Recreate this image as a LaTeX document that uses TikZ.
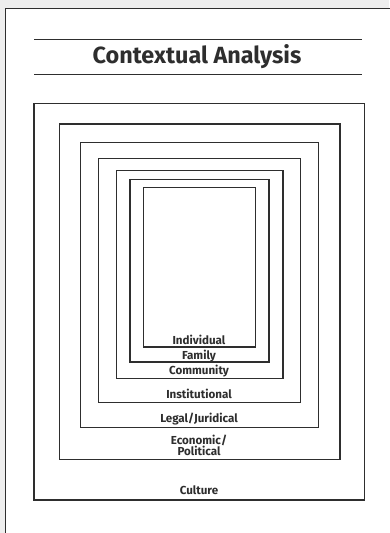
\documentclass[tikz,border=0pt]{standalone}
\usepackage{fontspec}
\setmainfont{Fira Sans}
\definecolor{pagebg}{HTML}{EEEEEE}
\definecolor{ink}{HTML}{2E2E2E}
\begin{document}
\begin{tikzpicture}[x=1pt,y=-1pt,
  box/.style={draw=ink,line width=#1},
  box/.default=1.1pt,
  lbl/.style={font=\bfseries\fontsize{11.6}{10.6}\selectfont,text=ink,inner sep=0pt,align=center},
  rulel/.style={draw=ink,line width=0.9pt}]
\useasboundingbox (0,0) rectangle (389,533);
\fill[pagebg] (0,0) rectangle (389,533);
\fill[white] (5,8) rectangle (395,540);
\draw[ink,line width=1pt] (5,540) -- (5,8) -- (395,8);
% title
\coordinate (t1a) at (34,39.5); \coordinate (t1b) at (362,39.5);
\coordinate (t2a) at (34,74); \coordinate (t2b) at (362,74);
\draw[rulel] (t1a) -- (t1b);
\draw[rulel] (t2a) -- (t2b);
\node[font=\bfseries\fontsize{23.4}{26}\selectfont,text=ink] (title) at (197,56.5) {Contextual Analysis};
% boxes
\path[box=1.4pt] (34,103.3) rectangle (364.3,500);
\path[box=1.3pt] (59.3,124) rectangle (340,459.3);
\path[box=1.1pt] (80.3,142.7) rectangle (318.7,427.3);
\path[box=1.1pt] (98.3,158.3) rectangle (300.7,402.3);
\path[box=1.1pt] (116.3,170.7) rectangle (283,378.7);
\path[box=1.1pt] (130,179.3) rectangle (269,362);
\path[box=1.1pt] (143.7,187.7) rectangle (255.7,347);
% labels
\node[lbl] (ind) at (199,340) {Individual};
\node[lbl] (fam) at (199,355.7) {Family};
\node[lbl] (com) at (199,370.7) {Community};
\node[lbl] (ins) at (199,394) {Institutional};
\node[lbl] (leg) at (199,418.7) {Legal/Juridical};
\node[lbl] (eco) at (199,445.5) {Economic/\\Political};
\node[lbl] (cul) at (199,490) {Culture};
\end{tikzpicture}
\end{document}
